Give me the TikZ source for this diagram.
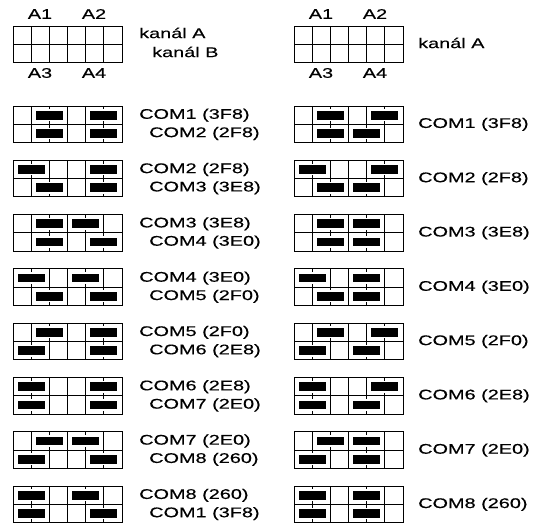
\documentclass[tikz,border=0pt]{standalone}
\usepackage{fontspec}
\setmainfont{Liberation Sans}[FakeStretch=1.42, FakeBold=0.4]
\usetikzlibrary{positioning}

\tikzset{
    gridline/.style={draw=black, line width=0.9pt},
    jumperbar/.style={fill=black, draw=white, line width=1.5pt},
    pinlabel/.style={inner sep=0pt, font=\fontsize{14}{16}\selectfont},
    comlabel/.style={inner sep=0pt, anchor=west, font=\fontsize{14}{16}\selectfont}
}

% one block of 2 x 6 pins, top left corner at (#1,#2)
\newcommand{\pinblock}[2]{%
    \draw[gridline] (#1,#2) rectangle ++(109,36.6);
    \draw[gridline] (#1,#2+18.3) -- ++(109,0);
    \foreach \c in {1,...,5}
        \draw[gridline] (#1+\c*18.1667,#2) -- ++(0,36.6);
}
% jumper in row #3 (0/1) on pin line #4
\newcommand{\jumper}[4]{%
    \path[jumperbar] (#1+#4*18.1667-14.3,#2+#3*18.3+4) rectangle ++(28.6,10.3);
}

\begin{document}
\begin{tikzpicture}[x=1pt, y=-1pt]
    \useasboundingbox (0,0) rectangle (542,525);

    % header
    \pinblock{13}{26}
    \pinblock{294}{26}
    \node[pinlabel] (LA1) at ( 40,14) {A1};
    \node[pinlabel] (LA2) at ( 94,14) {A2};
    \node[pinlabel] (LA3) at ( 40,73) {A3};
    \node[pinlabel] (LA4) at ( 94,73) {A4};
    \node[pinlabel] (RA1) at (321,14) {A1};
    \node[pinlabel] (RA2) at (375,14) {A2};
    \node[pinlabel] (RA3) at (321,73) {A3};
    \node[pinlabel] (RA4) at (375,73) {A4};
    \node[comlabel] (chA)  at (139,33) {kanál A};
    \node[comlabel] (chB)  at (152,52) {kanál B};
    \node[comlabel] (chRA) at (418,43) {kanál A};

    % settings
    \foreach \k/\first/\second/\la/\lb/\lc/\ld/\ra/\rb/\rc/\rd in {
        1/{COM1 (3F8)}/{COM2 (2F8)}/2/5/2/5/2/5/2/4,
        2/{COM2 (2F8)}/{COM3 (3E8)}/1/5/2/5/1/5/2/4,
        3/{COM3 (3E8)}/{COM4 (3E0)}/2/4/2/5/2/4/2/4,
        4/{COM4 (3E0)}/{COM5 (2F0)}/1/4/2/5/1/4/2/4,
        5/{COM5 (2F0)}/{COM6 (2E8)}/2/5/1/5/2/5/1/4,
        6/{COM6 (2E8)}/{COM7 (2E0)}/1/5/1/5/1/5/1/4,
        7/{COM7 (2E0)}/{COM8 (260)}/2/4/1/5/2/4/1/4,
        8/{COM8 (260)}/{COM1 (3F8)}/1/4/1/5/1/4/1/4}{
        \pgfmathsetmacro{\top}{106+(\k-1)*54.3}
        \pinblock{13}{\top}
        \jumper{13}{\top}{0}{\la}
        \jumper{13}{\top}{0}{\lb}
        \jumper{13}{\top}{1}{\lc}
        \jumper{13}{\top}{1}{\ld}
        \pinblock{294}{\top}
        \jumper{294}{\top}{0}{\ra}
        \jumper{294}{\top}{0}{\rb}
        \jumper{294}{\top}{1}{\rc}
        \jumper{294}{\top}{1}{\rd}
        \node[comlabel] (left\k a) at (139,\top+9.2)  {\first};
        \node[comlabel] (left\k b) at (149,\top+27.5) {\second};
        \node[comlabel] (right\k)  at (418,\top+18.3) {\first};
    }
\end{tikzpicture}
\end{document}
